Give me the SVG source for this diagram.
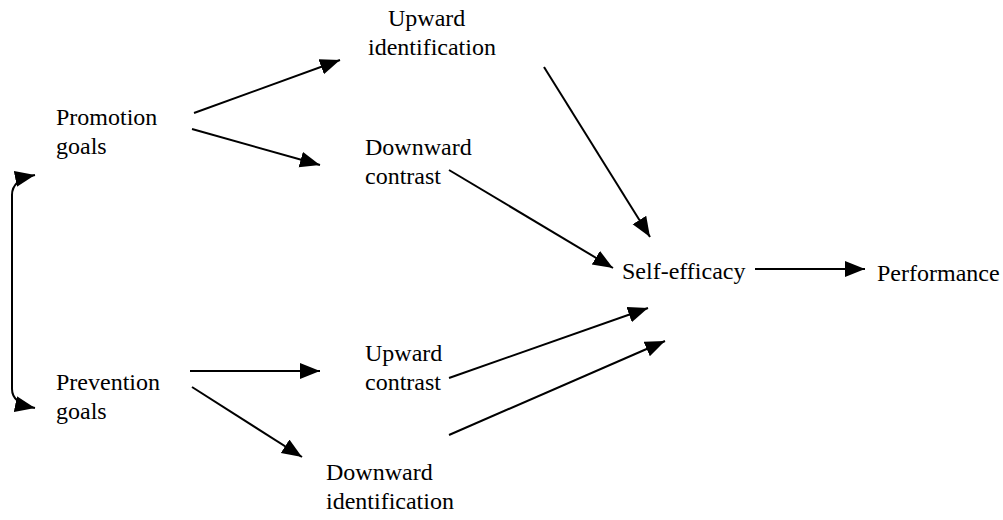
<svg xmlns="http://www.w3.org/2000/svg" width="1003" height="520" viewBox="0 0 1003 520" font-family="'Liberation Serif', 'DejaVu Serif', 'Times New Roman', serif">
<style>
text{font-family:'Liberation Serif','DejaVu Serif','Times New Roman',serif;font-size:24px;fill:#000}
.c{fill:none;stroke:#000;stroke-width:2}
</style>
<defs>
<marker id="ah" markerUnits="userSpaceOnUse" markerWidth="21" markerHeight="17" refX="20" refY="8" orient="auto-start-reverse">
<path d="M0,0 L20,8 L0,16 z" fill="#000"/>
</marker>
</defs>
<rect width="1003" height="520" fill="#fff"/>
<g id="promotion"><text x="56" y="125">Promotion</text><text x="56" y="154">goals</text></g>
<g id="prevention"><text x="56" y="390">Prevention</text><text x="56" y="419">goals</text></g>
<g id="upward-identification"><text x="388" y="26">Upward</text><text x="368" y="55">identification</text></g>
<g id="downward-contrast"><text x="365" y="155">Downward</text><text x="365" y="184">contrast</text></g>
<g id="upward-contrast"><text x="365" y="361">Upward</text><text x="365" y="390">contrast</text></g>
<g id="downward-identification"><text x="326" y="480">Downward</text><text x="326" y="509">identification</text></g>
<g id="self-efficacy"><text x="622" y="279">Self-efficacy</text></g>
<g id="performance"><text x="877" y="281">Performance</text></g>
<g id="connectors">
<path class="c" marker-start="url(#ah)" marker-end="url(#ah)" d="M35,408 C20,405 12,399 12,389 L12,195 C12,185 20,178 35,175"/>
<line class="c" marker-end="url(#ah)" x1="194" y1="113" x2="340" y2="60"/>
<line class="c" marker-end="url(#ah)" x1="192" y1="129" x2="320" y2="165"/>
<line class="c" marker-end="url(#ah)" x1="544" y1="67" x2="650" y2="237"/>
<line class="c" marker-end="url(#ah)" x1="449" y1="170" x2="613" y2="268"/>
<line class="c" marker-end="url(#ah)" x1="755" y1="269" x2="865" y2="269"/>
<line class="c" marker-end="url(#ah)" x1="449" y1="378" x2="648" y2="308"/>
<line class="c" marker-end="url(#ah)" x1="449" y1="435" x2="665" y2="341"/>
<line class="c" marker-end="url(#ah)" x1="190" y1="371" x2="320" y2="371"/>
<line class="c" marker-end="url(#ah)" x1="192" y1="387" x2="302" y2="457"/>
</g>
</svg>
